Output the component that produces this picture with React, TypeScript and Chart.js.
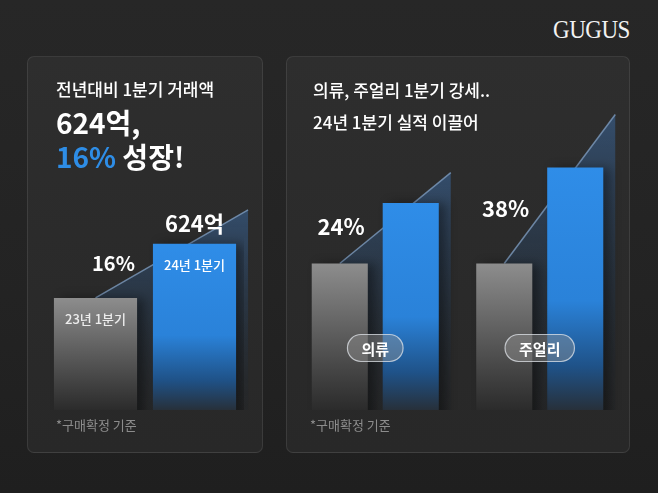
import React, { useEffect, useRef } from 'react';
import { Chart, registerables } from 'chart.js';

Chart.register(...registerables);

// ---- Data ----
const leftCategories = ['23년 1분기', '24년 1분기'];
const leftValues = [538, 624]; // 억 원
const leftValueLabels = ['', '624억'];
const leftGrowth = ['16%'];
const leftArrowEnd = [678];
const leftAxisRange = [360, 700];

const rightCategories = ['의류', '주얼리'];
const rightPrev = [100, 100]; // 23년 1분기 = 100
const rightCurr = [124, 138]; // 24년 1분기
const rightGrowth = ['24%', '38%'];
const rightArrowEnd = [136, 159];
const rightAxisRange = [42, 160];

const KR = '"Noto Sans CJK KR", "Noto Sans", sans-serif';

function grayGradient(c: any) {
  const chart = c.chart;
  const area = chart.chartArea;
  if (!area || !chart.scales.y) return '#888888';
  const top = chart.scales.y.getPixelForValue(c.raw);
  const g = chart.ctx.createLinearGradient(0, top, 0, area.bottom);
  g.addColorStop(0, '#8d8d8d');
  g.addColorStop(0.45, '#606060');
  g.addColorStop(0.8, '#3e3e3e');
  g.addColorStop(1, '#2b2b2b');
  return g;
}

function blueGradient(c: any) {
  const chart = c.chart;
  const area = chart.chartArea;
  if (!area || !chart.scales.y) return '#2e8ce6';
  const top = chart.scales.y.getPixelForValue(c.raw);
  const g = chart.ctx.createLinearGradient(0, top, 0, area.bottom);
  g.addColorStop(0, '#2f8de8');
  g.addColorStop(0.55, '#2a82d9');
  g.addColorStop(0.82, '#1f5288');
  g.addColorStop(1, '#27303a');
  return g;
}

type Group = { prev: any; curr: any };

function decoPlugin(cfg: {
  groups: (chart: any) => Group[];
  arrowEnd: number[];
  growth: string[];
  growthFont: number;
  valueLabels?: string[];
  innerLabels?: string[];
  pills?: string[];
}) {
  return {
    id: 'deco',
    beforeDatasetsDraw(chart: any) {
      const ctx = chart.ctx;
      const area = chart.chartArea;
      const ys = chart.scales.y;
      cfg.groups(chart).forEach((g, i) => {
        const sx = g.prev.x;
        const sy = g.prev.y;
        const ax = g.curr.x + g.curr.width / 2 + 12;
        const ay = ys.getPixelForValue(cfg.arrowEnd[i]);
        const bottom = area.bottom;
        const grad = ctx.createLinearGradient(0, ay, 0, bottom);
        grad.addColorStop(0, 'rgba(60,110,170,0.5)');
        grad.addColorStop(0.5, 'rgba(40,75,115,0.3)');
        grad.addColorStop(1, 'rgba(20,30,40,0.12)');
        ctx.save();
        ctx.beginPath();
        ctx.moveTo(sx, sy);
        ctx.lineTo(ax, ay);
        ctx.lineTo(ax, bottom);
        ctx.lineTo(sx, bottom);
        ctx.closePath();
        ctx.fillStyle = grad;
        ctx.fill();
        ctx.beginPath();
        ctx.moveTo(sx, sy);
        ctx.lineTo(ax, ay);
        ctx.strokeStyle = 'rgba(125,155,190,0.8)';
        ctx.lineWidth = 1.5;
        ctx.stroke();
        ctx.restore();
      });
      ctx.save();
      ctx.shadowColor = 'rgba(0,0,0,0.38)';
      ctx.shadowBlur = 10;
      ctx.shadowOffsetX = 7;
    },
    afterDatasetsDraw(chart: any) {
      const ctx = chart.ctx;
      ctx.restore();
      const area = chart.chartArea;
      const xs = chart.scales.x;
      ctx.save();
      ctx.textAlign = 'center';
      ctx.textBaseline = 'middle';
      cfg.groups(chart).forEach((g, i) => {
        ctx.fillStyle = '#ffffff';
        ctx.font = `bold ${cfg.growthFont}px ${KR}`;
        ctx.textAlign = 'right';
        ctx.fillText(cfg.growth[i], g.curr.x - g.curr.width / 2 - 18, (g.prev.y + g.curr.y) / 2 - 7);
        ctx.textAlign = 'center';
        if (cfg.pills) {
          const cx = xs.getPixelForValue(i);
          const cy = area.bottom - 62;
          ctx.font = `bold 15px ${KR}`;
          const tw = ctx.measureText(cfg.pills[i]).width;
          const w = tw + 28;
          const h = 27;
          ctx.beginPath();
          ctx.roundRect(cx - w / 2, cy - h / 2, w, h, h / 2);
          ctx.fillStyle = 'rgba(150,150,150,0.42)';
          ctx.fill();
          ctx.strokeStyle = 'rgba(225,230,235,0.75)';
          ctx.lineWidth = 1.2;
          ctx.stroke();
          ctx.fillStyle = '#ffffff';
          ctx.fillText(cfg.pills[i], cx, cy + 1);
        }
      });
      const metas = chart.getSortedVisibleDatasetMetas();
      if (cfg.valueLabels || cfg.innerLabels) {
        const els = metas[0].data;
        els.forEach((el: any, j: number) => {
          if (cfg.valueLabels && cfg.valueLabels[j]) {
            ctx.fillStyle = '#ffffff';
            ctx.font = `bold 22px ${KR}`;
            ctx.fillText(cfg.valueLabels[j], el.x, el.y - 20);
          }
          if (cfg.innerLabels) {
            ctx.fillStyle = j === 0 ? '#ececec' : '#ffffff';
            ctx.font = `500 13px ${KR}`;
            ctx.fillText(cfg.innerLabels[j], el.x, el.y + 21);
          }
        });
      }
      ctx.restore();
    },
  };
}

function LeftChart() {
  const ref = useRef<HTMLCanvasElement>(null);
  useEffect(() => {
    const chart = new Chart(ref.current!, {
      type: 'bar',
      data: {
        labels: leftCategories,
        datasets: [
          {
            data: leftValues,
            backgroundColor: (c: any) => (c.dataIndex === 0 ? grayGradient(c) : blueGradient(c)),
            borderWidth: 0,
            barPercentage: 0.84,
            categoryPercentage: 1,
          },
        ],
      },
      options: {
        animation: false,
        responsive: false,
        maintainAspectRatio: false,
        layout: { padding: { left: 19, right: 19, top: 140, bottom: 43 } },
        plugins: { legend: { display: false }, tooltip: { enabled: false } },
        scales: {
          x: { display: false },
          y: { display: false, min: leftAxisRange[0], max: leftAxisRange[1] },
        },
      },
      plugins: [
        decoPlugin({
          groups: (chart: any) => {
            const d = chart.getDatasetMeta(0).data;
            return [{ prev: d[0], curr: d[1] }];
          },
          arrowEnd: leftArrowEnd,
          growth: leftGrowth,
          growthFont: 20,
          valueLabels: leftValueLabels,
          innerLabels: leftCategories,
        }),
      ],
    } as any);
    return () => chart.destroy();
  }, []);
  return (
    <canvas
      ref={ref}
      width={236}
      height={397}
      style={{ position: 'absolute', left: 27, top: 56, width: 236, height: 397 }}
    />
  );
}

function RightChart() {
  const ref = useRef<HTMLCanvasElement>(null);
  useEffect(() => {
    const chart = new Chart(ref.current!, {
      type: 'bar',
      data: {
        labels: rightCategories,
        datasets: [
          {
            label: '23년 1분기',
            data: rightPrev,
            backgroundColor: grayGradient,
            borderWidth: 0,
            barPercentage: 0.79,
            categoryPercentage: 0.863,
          },
          {
            label: '24년 1분기',
            data: rightCurr,
            backgroundColor: blueGradient,
            borderWidth: 0,
            barPercentage: 0.79,
            categoryPercentage: 0.863,
          },
        ],
      },
      options: {
        animation: false,
        responsive: false,
        maintainAspectRatio: false,
        layout: { padding: { left: 7, right: 8, top: 56, bottom: 43 } },
        plugins: { legend: { display: false }, tooltip: { enabled: false } },
        scales: {
          x: { display: false },
          y: { display: false, min: rightAxisRange[0], max: rightAxisRange[1] },
        },
      },
      plugins: [
        decoPlugin({
          groups: (chart: any) => {
            const a = chart.getDatasetMeta(0).data;
            const b = chart.getDatasetMeta(1).data;
            return a.map((el: any, i: number) => ({ prev: el, curr: b[i] }));
          },
          arrowEnd: rightArrowEnd,
          growth: rightGrowth,
          growthFont: 22,
          pills: rightCategories,
        }),
      ],
    } as any);
    return () => chart.destroy();
  }, []);
  return (
    <canvas
      ref={ref}
      width={344}
      height={397}
      style={{ position: 'absolute', left: 286, top: 56, width: 344, height: 397 }}
    />
  );
}

const abs = (left: number, top: number, size: number, extra: any = {}) => ({
  position: 'absolute' as const,
  left,
  top,
  fontSize: size,
  lineHeight: `${size}px`,
  whiteSpace: 'nowrap' as const,
  fontFamily: KR,
  color: '#ffffff',
  ...extra,
});

const cardStyle = (left: number, width: number) => ({
  position: 'absolute' as const,
  left,
  top: 56,
  width,
  height: 397,
  boxSizing: 'border-box' as const,
  borderRadius: 7,
  border: '1.5px solid rgba(255,255,255,0.09)',
  background: 'linear-gradient(180deg, #2e2e2e 0%, #2a2a2a 60%, #282828 100%)',
});

export default function App() {
  return (
    <div
      style={{
        position: 'fixed',
        left: 0,
        top: 0,
        width: 658,
        height: 493,
        overflow: 'hidden',
        background: 'linear-gradient(180deg, #272727 0%, #232323 60%, #1f1f1f 100%)',
      }}
    >
      <div
        style={abs(553, 17, 25, {
          fontFamily: '"Liberation Serif", "DejaVu Serif", serif',
          color: '#f2f2f2',
          letterSpacing: -0.5,
          transform: 'scaleX(0.92)',
          transformOrigin: 'left center',
        })}
      >
        GUGUS
      </div>
      <div style={cardStyle(27, 236)} />
      <div style={cardStyle(286, 344)} />
      <LeftChart />
      <RightChart />

      <div style={abs(56, 80, 17, { fontWeight: 500 })}>전년대비 1분기 거래액</div>
      <div style={abs(56, 108, 28, { fontWeight: 700 })}>624억,</div>
      <div style={abs(56, 142, 28, { fontWeight: 700 })}>
        <span style={{ color: '#2e8de6' }}>16%</span> 성장!
      </div>
      <div style={abs(56, 418, 13, { color: '#8c8c8c' })}>*구매확정 기준</div>

      <div style={abs(313, 81, 17, { fontWeight: 500 })}>의류, 주얼리 1분기 강세..</div>
      <div style={abs(313, 113, 17, { fontWeight: 500 })}>24년 1분기 실적 이끌어</div>
      <div style={abs(310, 418, 13, { color: '#8c8c8c' })}>*구매확정 기준</div>
    </div>
  );
}
